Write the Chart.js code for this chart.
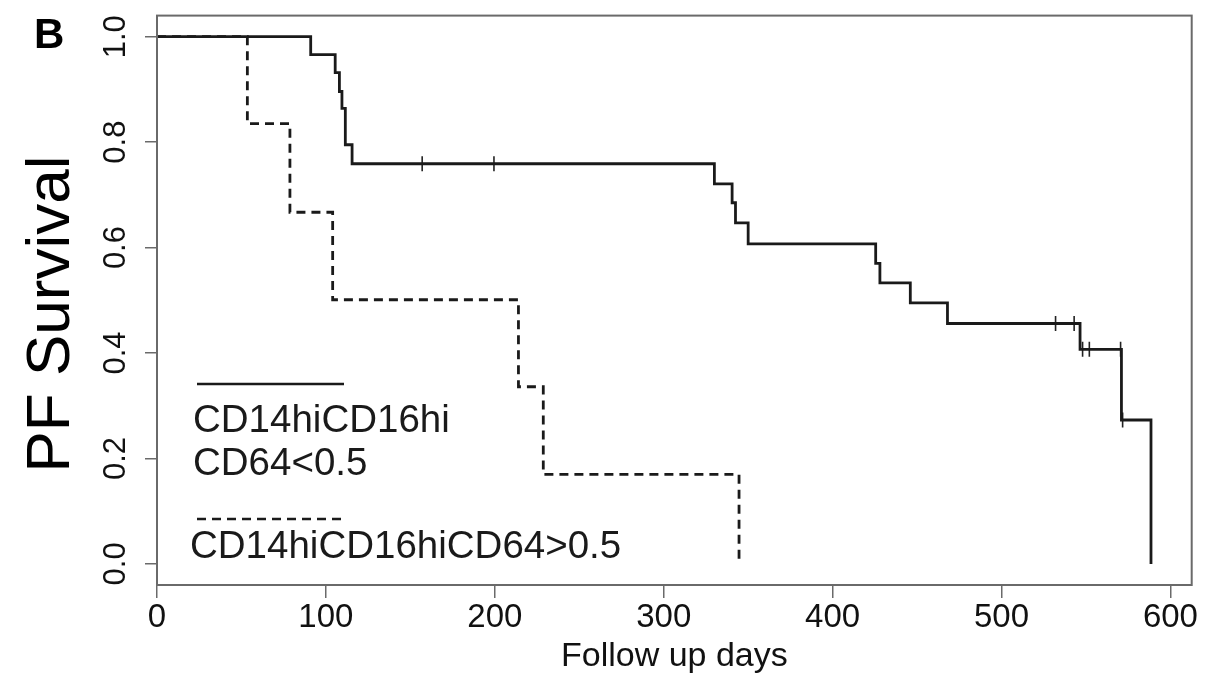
<!DOCTYPE html>
<html>
<head>
<meta charset="utf-8">
<script src="https://cdn.jsdelivr.net/npm/chart.js@4.4.1/dist/chart.umd.min.js"></script>
<style>
  html, body { margin: 0; padding: 0; background: #fff; }
  canvas { display: block; }
</style>
</head>
<body>
<canvas id="kmChart" width="1227" height="678"></canvas>
<script>
// Kaplan-Meier steps (days, survival)
const solidDays = [0, 91, 105.5, 108, 109.5, 111.5, 115.5, 330, 340.5, 342.5, 350, 425.5, 428, 446, 468, 546.5, 571, 588.5]
const solidSurv = [1, 0.966, 0.932, 0.896, 0.864, 0.795, 0.759, 0.721, 0.685, 0.647, 0.607, 0.570, 0.533, 0.495, 0.456, 0.407, 0.273, 0]

// censored observations (tick marks) on the solid curve
const solidCensorDays = [157, 199.5, 532, 543, 548, 552, 570.5, 571.7]
const solidCensorSurv = [0.759, 0.759, 0.456, 0.456, 0.407, 0.407, 0.407, 0.273]

const dashedDays = [0, 53.5, 78.7, 104, 214, 228.7, 344.6]
const dashedSurv = [1, 0.835, 0.667, 0.501, 0.336, 0.170, 0]

const xTicks = [0, 100, 200, 300, 400, 500, 600]
const yTicks = [0, 0.2, 0.4, 0.6, 0.8, 1.0]

const legendLabels = ['CD14hiCD16hi', 'CD64<0.5', 'CD14hiCD16hiCD64>0.5']
const yTitle = 'PF Survival'

const fontFamily = '"Liberation Sans", Arial, Helvetica, sans-serif'
const ink = '#1a1a1a'
const frame = '#6a6a6a'

function toPoints(xs, ys) {
    return xs.map((x, i) => ({ x: x, y: ys[i] }))
}

// box around the plot, the panel letter, the y title and the hand-placed legend
const decorations = {
    id: 'decorations',
    afterDraw(chart) {
        const ctx = chart.ctx
        const area = chart.chartArea
        ctx.save()

        ctx.strokeStyle = frame
        ctx.lineWidth = 2
        ctx.strokeRect(area.left, area.top, area.right - area.left, area.bottom - area.top)

        ctx.fillStyle = '#000'
        ctx.font = 'bold 42px ' + fontFamily
        ctx.textBaseline = 'alphabetic'
        ctx.fillText('B', 34, 48)

        // rotated y title
        ctx.save()
        ctx.translate(52, 314)
        ctx.rotate(-Math.PI / 2)
        ctx.textAlign = 'center'
        ctx.textBaseline = 'middle'
        ctx.font = '62px ' + fontFamily
        ctx.fillText(yTitle, 0, 0)
        ctx.restore()

        // legend
        ctx.strokeStyle = ink
        ctx.lineWidth = 2.6
        ctx.beginPath()
        ctx.moveTo(197, 384)
        ctx.lineTo(344, 384)
        ctx.stroke()

        ctx.setLineDash([9, 6])
        ctx.beginPath()
        ctx.moveTo(197, 519)
        ctx.lineTo(342, 519)
        ctx.stroke()
        ctx.setLineDash([])

        ctx.fillStyle = ink
        ctx.font = '38.5px ' + fontFamily
        ctx.fillText(legendLabels[0], 193, 432)
        ctx.fillText(legendLabels[1], 193, 475)
        ctx.fillText(legendLabels[2], 190, 558)

        ctx.restore()
    }
}

let chart = new Chart(document.getElementById('kmChart'), {
    type: 'line',
    data: {
        datasets: [
            {
                label: 'CD14hiCD16hi CD64<0.5',
                data: toPoints(solidDays, solidSurv),
                stepped: true,
                borderColor: ink,
                borderWidth: 2.8,
                pointRadius: 0,
                fill: false
            },
            {
                label: 'CD14hiCD16hiCD64>0.5',
                data: toPoints(dashedDays, dashedSurv),
                stepped: true,
                borderColor: ink,
                borderWidth: 2.8,
                borderDash: [9, 6],
                pointRadius: 0,
                fill: false
            },
            {
                label: 'censored',
                data: toPoints(solidCensorDays, solidCensorSurv),
                showLine: false,
                pointStyle: 'line',
                rotation: 90,
                pointRadius: 7.5,
                pointBorderWidth: 1.6,
                pointBorderColor: '#222',
                borderColor: '#222'
            }
        ]
    },
    options: {
        responsive: false,
        animation: false,
        devicePixelRatio: 1,
        layout: { padding: { left: 0, right: 35.3, top: 15.6, bottom: 0 } },
        plugins: {
            legend: { display: false },
            tooltip: { enabled: false }
        },
        scales: {
            x: {
                type: 'linear',
                min: 0,
                max: 612.6,
                afterBuildTicks: scale => { scale.ticks = xTicks.map(v => ({ value: v })) },
                afterFit: scale => {
                    scale.height = 93
                    scale.paddingLeft = 0
                    scale.paddingRight = 0
                },
                border: { display: false },
                grid: { drawOnChartArea: false, drawTicks: true, tickLength: 13, color: frame, lineWidth: 1.5 },
                ticks: {
                    autoSkip: false,
                    maxRotation: 0,
                    padding: 0,
                    color: '#111',
                    font: { family: fontFamily, size: 33 },
                    callback: value => String(value)
                },
                title: {
                    display: true,
                    text: 'Follow up days',
                    color: '#111',
                    font: { family: fontFamily, size: 34 },
                    padding: { top: 0, bottom: 1 }
                }
            },
            y: {
                type: 'linear',
                min: -0.04,
                max: 1.04,
                afterBuildTicks: scale => { scale.ticks = yTicks.map(v => ({ value: v })) },
                afterFit: scale => {
                    scale.width = 157
                    scale.paddingTop = 0
                    scale.paddingBottom = 0
                },
                border: { display: false },
                grid: { drawOnChartArea: false, drawTicks: true, tickLength: 12, color: frame, lineWidth: 1.5 },
                ticks: {
                    minRotation: 90,
                    maxRotation: 90,
                    crossAlign: 'center',
                    padding: 7,
                    color: '#111',
                    font: { family: fontFamily, size: 31 },
                    callback: value => value.toFixed(1)
                },
                title: { display: false }
            }
        }
    },
    plugins: [decorations]
})
</script>
</body>
</html>
